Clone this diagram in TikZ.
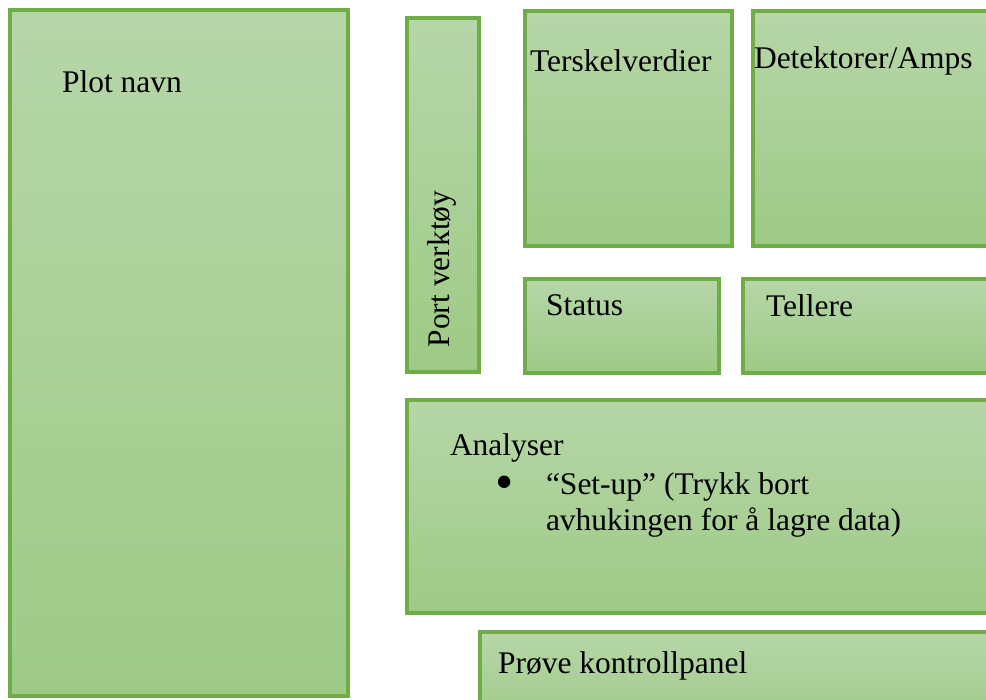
\documentclass[tikz,border=0pt]{standalone}
\usepackage{fontspec}
\setmainfont{Liberation Serif}
\definecolor{gborder}{RGB}{112,173,71}
\definecolor{gtop}{RGB}{182,214,168}
\definecolor{gbot}{RGB}{158,202,134}
\tikzset{
  panel/.style={draw=gborder, line width=3.1pt, top color=gtop, bottom color=gbot,
    anchor=north west, inner sep=0pt, outer sep=0pt},
  lbl/.style={font=\fontsize{31.5}{36}\selectfont, text=black, inner sep=0pt, outer sep=0pt, anchor=base west}
}
\begin{document}
\begin{tikzpicture}[x=1pt,y=-1pt]
\useasboundingbox (0,0) rectangle (986,700);
\clip (0,0) rectangle (986,700);
% panels
\node[panel, minimum width=338pt, minimum height=686pt] (plot) at (10,10) {};
\node[panel, minimum width=72pt, minimum height=354pt] (port) at (407,18) {};
\node[panel, minimum width=207pt, minimum height=235pt] (tersk) at (525,11) {};
\node[panel, minimum width=260pt, minimum height=235pt] (detek) at (753,11) {};
\node[panel, minimum width=194pt, minimum height=94pt] (status) at (525,279) {};
\node[panel, minimum width=260pt, minimum height=94pt] (teller) at (743,279) {};
\node[panel, minimum width=600pt, minimum height=213pt] (analys) at (407,400) {};
\node[panel, minimum width=530pt, minimum height=100pt] (prove) at (480,632) {};
% labels
\node[lbl] (tplot) at (62,93) {Plot navn};
\node[lbl, rotate=90, anchor=base] (tport) at (449,269) {Port verktøy};
\node[lbl] (ttersk) at (530,72) {Terskelverdier};
\node[lbl] (tdetek) at (754,69) {Detektorer/Amps};
\node[lbl] (tstatus) at (546,316) {Status};
\node[lbl] (tteller) at (766,317) {Tellere};
\node[lbl] (tanalys) at (450,456) {Analyser};
\node[lbl, font=\fontsize{52}{52}\selectfont, anchor=base] (tbullet) at (505,500) {•};
\node[lbl] (tline1) at (546,495) {“Set-up” (Trykk bort};
\node[lbl] (tline2) at (546,530) {avhukingen for å lagre data)};
\node[lbl] (tprove) at (498,673) {Prøve kontrollpanel};
\end{tikzpicture}
\end{document}
